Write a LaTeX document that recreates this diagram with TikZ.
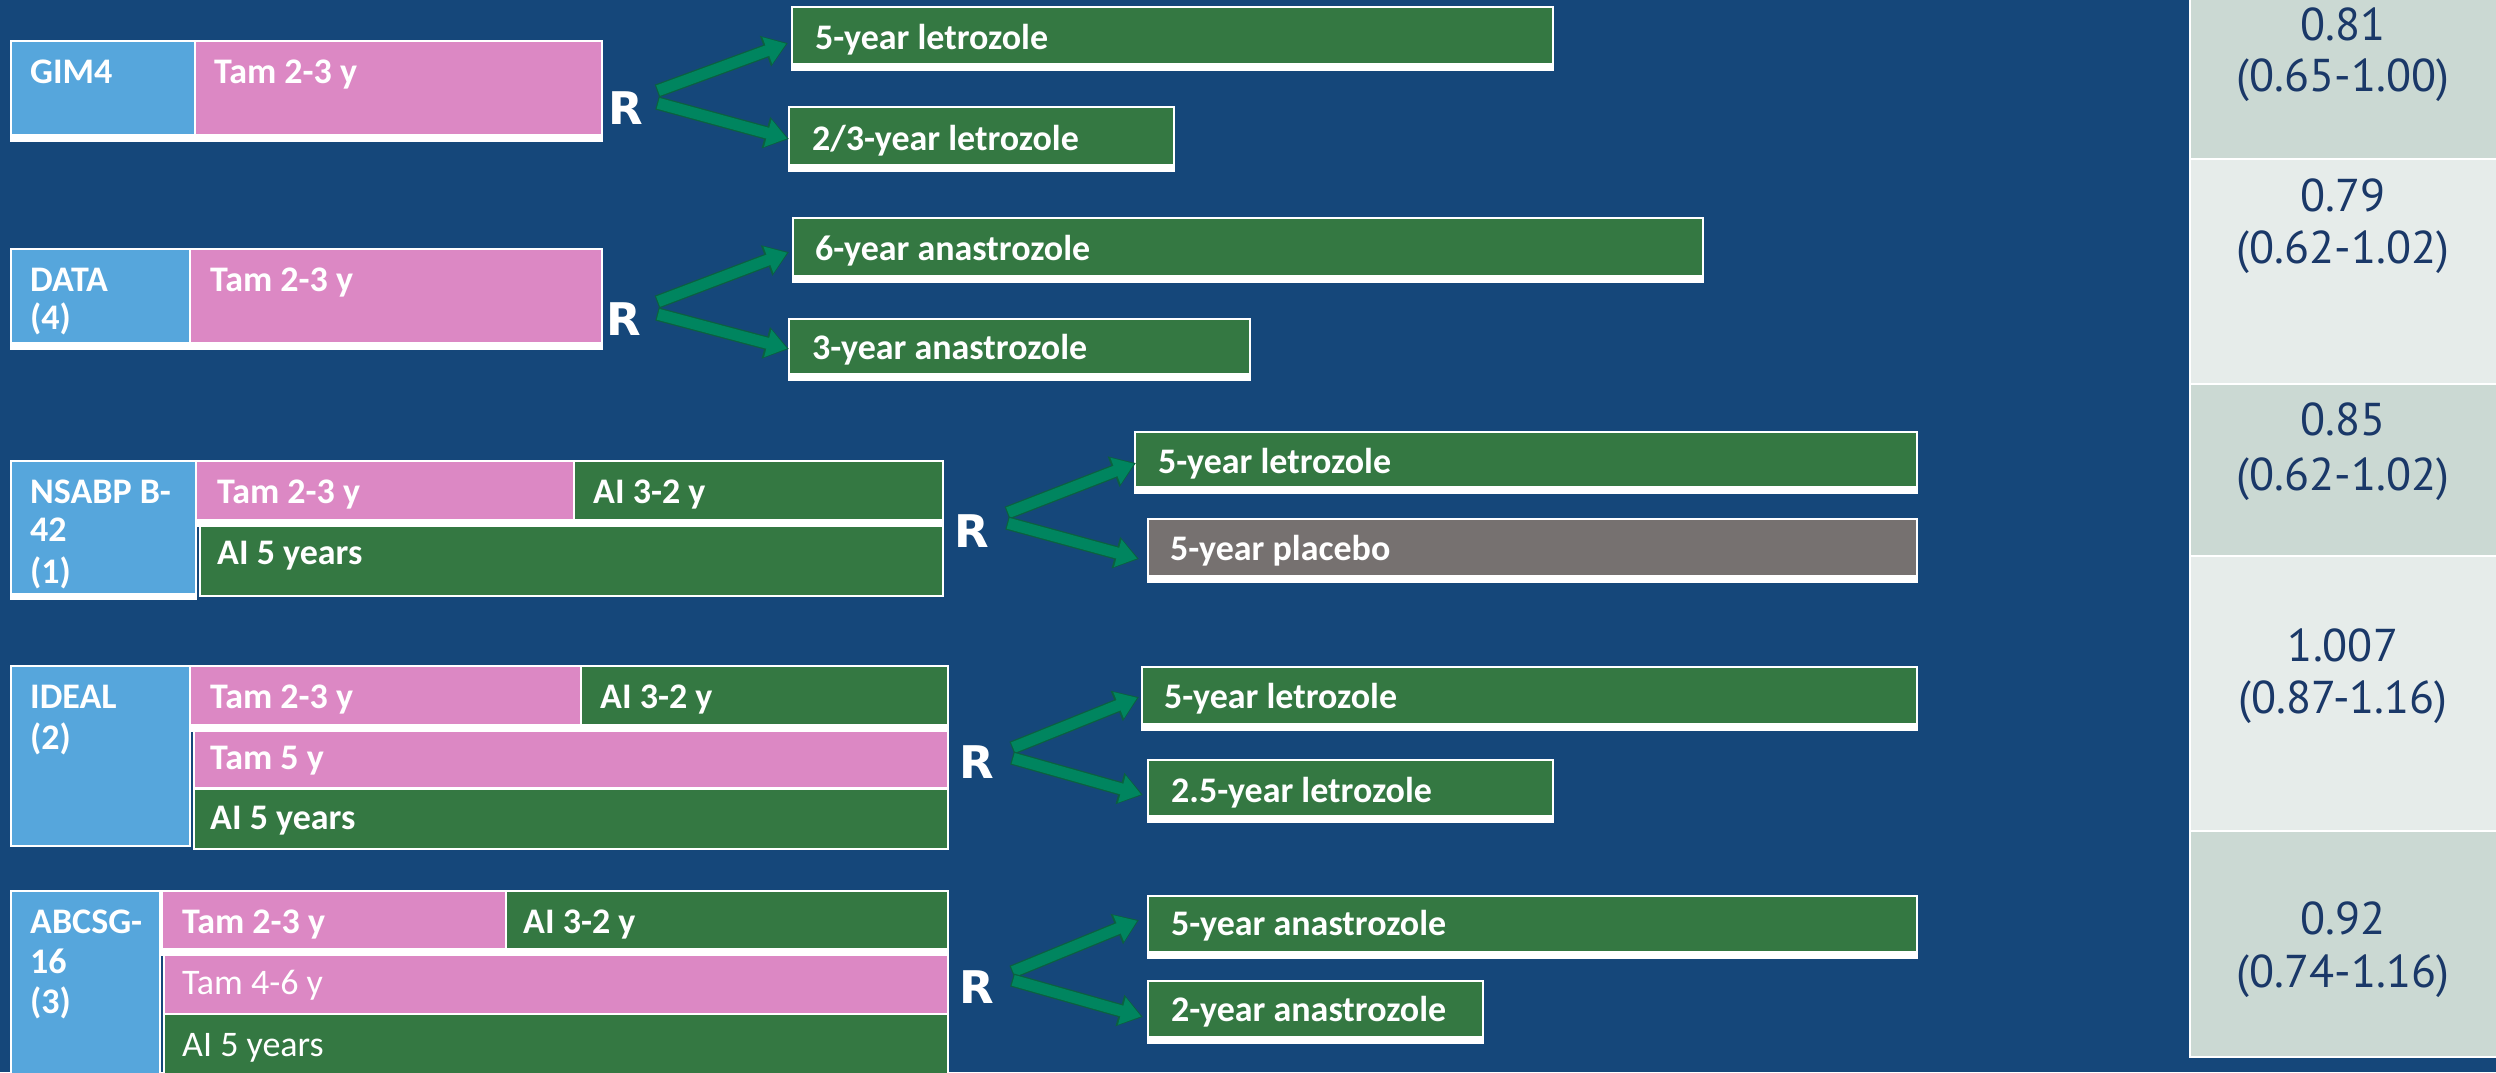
\documentclass[tikz,border=0pt]{standalone}
\usepackage{fontspec}
\setmainfont{Carlito}
\newfontfamily\tabfont{PT Sans}
\newfontfamily\rfont{DejaVu Sans}
\usetikzlibrary{arrows.meta}
\definecolor{bg}{HTML}{15477A}
\definecolor{gbox}{HTML}{347842}
\definecolor{pbox}{HTML}{DC88C4}
\definecolor{bbox}{HTML}{56A6DC}
\definecolor{greybox}{HTML}{767170}
\definecolor{arrf}{HTML}{00855F}
\definecolor{arrd}{HTML}{0B6040}
\definecolor{rowd}{HTML}{CBD9D3}
\definecolor{rowl}{HTML}{E6ECEA}
\definecolor{tabtxt}{HTML}{1A3868}
\tikzset{
  boxouter/.style={rectangle, fill=white, draw=none, inner sep=0pt, outer sep=0pt},
  lbl/.style={anchor=base west, text=white, inner sep=0pt, font=\fontsize{36}{40}\selectfont\bfseries},
  lblr/.style={anchor=base west, text=white, inner sep=0pt, font=\fontsize{36}{40}\selectfont},
  rlab/.style={anchor=base, text=white, inner sep=0pt, font=\rfont\fontsize{45}{49}\selectfont\bfseries},
  tab/.style={anchor=base, text=tabtxt, inner sep=0pt, font=\tabfont\fontsize{46}{52}\selectfont},
  arrout/.style={draw=arrd, line width=13.5pt, -{Triangle[length=24pt,width=31pt]}},
  arrin/.style={draw=arrf, line width=11pt, -{Triangle[length=20pt,width=27pt]}, shorten >=2pt, shorten <=1.2pt},
}
\newcommand\bx[7]{%
  \node[boxouter, minimum width={(#4-#2)*1pt}, minimum height={(#5-#3)*1pt}] (#1) at ({(#2+#4)/2},{(#3+#5)/2}) {};
  \fill[#6] (#2+2,#3+2) rectangle (#4-2,#5-#7);
}
\newcommand\arrw[3]{%
  \coordinate (#1s) at (#2);
  \coordinate (#1t) at (#3);
  \draw[arrout] (#1s) -- (#1t);
  \draw[arrin] (#1s) -- (#1t);
}
\begin{document}
\begin{tikzpicture}[x=1pt,y=-1pt]
\useasboundingbox (0,0) rectangle (2496,1072);
\clip (0,0) rectangle (2496,1072);
\fill[bg] (0,0) rectangle (2496,1072);

% ---------- GIM4 ----------
\bx{g1b}{10}{40}{196}{142}{bbox}{8}
\bx{g1p}{194}{40}{603}{142}{pbox}{8}
\node[lbl] (g1t) at (30,83) {GIM4};
\node[lbl] (g1pt) at (214,83) {Tam 2-3 y};
\node[rlab] (R1) at (626,124) {R};
\bx{A1}{791}{6}{1554}{71}{gbox}{8}
\bx{A2}{788}{106}{1175}{172}{gbox}{8}
\node[lbl] (A1t) at (815,49) {5-year letrozole};
\node[lbl] (A2t) at (812,150) {2/3-year letrozole};
\arrw{a1}{657,91}{788,43}
\arrw{a2}{657,103}{789,139}

% ---------- DATA ----------
\bx{g2b}{10}{248}{191}{350}{bbox}{8}
\bx{g2p}{189}{248}{603}{350}{pbox}{8}
\node[lbl] (g2t1) at (30,291) {DATA};
\node[lbl] (g2t2) at (30,329) {(4)};
\node[lbl] (g2pt) at (210,291) {Tam 2-3 y};
\node[rlab] (R2) at (624,335) {R};
\bx{B1}{792}{217}{1704}{283}{gbox}{8}
\bx{B2}{788}{318}{1251}{381}{gbox}{8}
\node[lbl] (B1t) at (815,260) {6-year anastrozole};
\node[lbl] (B2t) at (812,359) {3-year anastrozole};
\arrw{b1}{657,302}{789,252}
\arrw{b2}{657,314}{789,349}

% ---------- NSABP B-42 ----------
\bx{g3b}{10}{460}{197}{600}{bbox}{7}
\bx{g3p}{195}{460}{575}{527}{pbox}{8}
\bx{g3g}{573}{460}{944}{527}{gbox}{8}
\bx{g3a}{199}{525}{944}{597}{gbox}{2}
\node[lbl] (g3t1) at (30,503) {NSABP B-};
\node[lbl] (g3t2) at (30,541) {42};
\node[lbl] (g3t3) at (30,583) {(1)};
\node[lbl] (g3pt) at (217,503) {Tam 2-3 y};
\node[lbl] (g3gt) at (593,503) {AI 3-2 y};
\node[lbl] (g3at) at (217,564) {AI 5 years};
\node[rlab] (R3) at (972,547) {R};
\bx{C1}{1134}{431}{1918}{494}{gbox}{8}
\bx{C2}{1147}{518}{1918}{583}{greybox}{8}
\node[lbl] (C1t) at (1158,473) {5-year letrozole};
\node[lbl] (C2t) at (1170,560) {5-year placebo};
\arrw{c1}{1007,513}{1136,463}
\arrw{c2}{1007,523}{1139,559}

% ---------- IDEAL ----------
\bx{g4b}{10}{665}{191}{847}{bbox}{2}
\bx{g4p}{189}{665}{582}{732}{pbox}{8}
\bx{g4g}{580}{665}{949}{732}{gbox}{8}
\bx{g4q}{193}{730}{949}{790}{pbox}{3}
\bx{g4a}{193}{788}{949}{850}{gbox}{2}
\node[lbl] (g4t1) at (30,708) {IDEAL};
\node[lbl] (g4t2) at (30,749) {(2)};
\node[lbl] (g4pt) at (210,708) {Tam 2-3 y};
\node[lbl] (g4gt) at (600,708) {AI 3-2 y};
\node[lbl] (g4qt) at (210,769) {Tam 5 y};
\node[lbl] (g4at) at (210,829) {AI 5 years};
\node[rlab] (R4) at (977,778) {R};
\bx{D1}{1141}{666}{1918}{731}{gbox}{8}
\bx{D2}{1147}{759}{1554}{823}{gbox}{8}
\node[lbl] (D1t) at (1164,708) {5-year letrozole};
\node[lbl] (D2t) at (1171,802) {2.5-year letrozole};
\arrw{d1}{1012,748}{1139,697}
\arrw{d2}{1012,758}{1143,795}

% ---------- ABCSG-16 ----------
\bx{g5b}{10}{890}{161}{1080}{bbox}{2}
\bx{g5p}{161}{890}{507}{956}{pbox}{8}
\bx{g5g}{505}{890}{949}{956}{gbox}{8}
\bx{g5q}{163}{954}{949}{1015}{pbox}{2}
\bx{g5a}{163}{1013}{949}{1080}{gbox}{2}
\node[lbl] (g5t1) at (30,933) {ABCSG-};
\node[lbl] (g5t2) at (30,973) {16};
\node[lbl] (g5t3) at (30,1013) {(3)};
\node[lbl] (g5pt) at (182,933) {Tam 2-3 y};
\node[lbl] (g5gt) at (523,933) {AI 3-2 y};
\node[lblr] (g5qt) at (182,994) {Tam 4-6 y};
\node[lblr] (g5at) at (182,1056) {AI 5 years};
\node[rlab] (R5) at (977,1003) {R};
\bx{E1}{1147}{895}{1918}{959}{gbox}{8}
\bx{E2}{1147}{980}{1484}{1044}{gbox}{8}
\node[lbl] (E1t) at (1171,935) {5-year anastrozole};
\node[lbl] (E2t) at (1171,1021) {2-year anastrozole};
\arrw{e1}{1012,972}{1139,920}
\arrw{e2}{1012,980}{1143,1017}

% ---------- hazard ratio table ----------
\fill[white] (2189,-5) rectangle (2500,1058);
\fill[rowd] (2191,-5) rectangle (2500,158);
\fill[rowl] (2191,160) rectangle (2500,383);
\fill[rowd] (2191,385) rectangle (2500,555);
\fill[rowl] (2191,557) rectangle (2500,830);
\fill[rowd] (2191,832) rectangle (2500,1056);
\node[tab] (h1a) at (2343,40) {0.81};
\node[tab] (h1b) at (2343,91) {(0.65-1.00)};
\node[tab] (h2a) at (2343,211) {0.79};
\node[tab] (h2b) at (2343,263) {(0.62-1.02)};
\node[tab] (h3a) at (2343,435) {0.85};
\node[tab] (h3b) at (2343,490) {(0.62-1.02)};
\node[tab] (h4a) at (2343,661) {1.007};
\node[tab] (h4b) at (2343,713) {(0.87-1.16)};
\node[tab] (h5a) at (2343,934) {0.92};
\node[tab] (h5b) at (2343,987) {(0.74-1.16)};
\end{tikzpicture}
\end{document}
